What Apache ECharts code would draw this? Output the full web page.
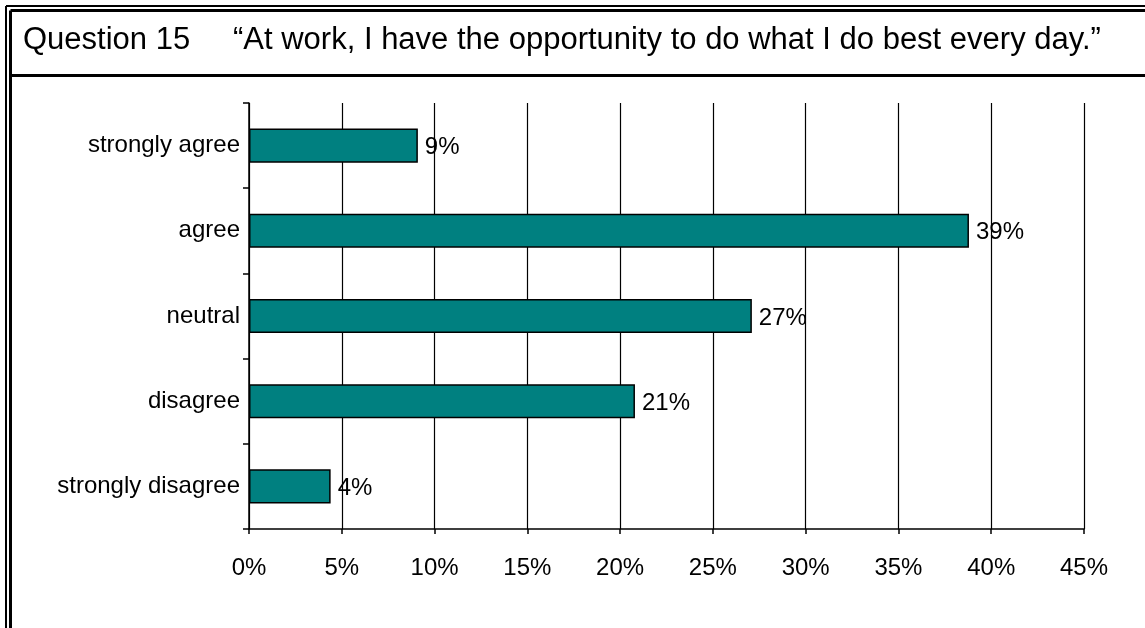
<!DOCTYPE html>
<html>
<head>
<meta charset="utf-8">
<script src="https://cdn.jsdelivr.net/npm/echarts@6/dist/echarts.min.js"></script>
<style>
  html, body { margin: 0; padding: 0; background: #fff; }
  #chart { width: 1145px; height: 628px; }
</style>
</head>
<body>
<div id="chart"></div>
<script>
// Survey responses, share of respondents (%)
const categories = ['strongly agree', 'agree', 'neutral', 'disagree', 'strongly disagree'];
const shares = [9.1, 38.8, 27.1, 20.8, 4.4];
const xTicks = [0, 5, 10, 15, 20, 25, 30, 35, 40, 45];
const questionNo = 'Question 15';
const statement = '\u201CAt work, I have the opportunity to do what I do best every day.\u201D';

const FONT = "'Liberation Sans', Arial, sans-serif";
const chart = echarts.init(document.getElementById('chart'), null, { renderer: 'canvas' });

const frameLine = (x1, y1, x2, y2, w) => ({
  type: 'line',
  shape: { x1, y1, x2, y2 },
  style: { stroke: '#000', lineWidth: w },
  silent: true
});

chart.setOption({
  animation: false,
  backgroundColor: '#fff',
  title: [
    { text: questionNo, left: 23, top: 25, padding: 0,
      textStyle: { fontFamily: FONT, fontSize: 31, fontWeight: 'normal', color: '#000' } },
    { text: statement, left: 233, top: 25, padding: 0,
      textStyle: { fontFamily: FONT, fontSize: 31, fontWeight: 'normal', color: '#000' } }
  ],
  graphic: [
    // double frame: thin outer rule, heavier inner rule
    frameLine(6, 6, 1145, 6, 2),
    frameLine(6, 6, 6, 628, 2),
    frameLine(10.5, 10.5, 1145, 10.5, 3),
    frameLine(10.5, 10.5, 10.5, 628, 3),
    // rule under the heading
    frameLine(10, 75.5, 1145, 75.5, 3)
  ],
  grid: { left: 249, right: 61, top: 103, bottom: 99, containLabel: false },
  xAxis: {
    type: 'value',
    min: xTicks[0],
    max: xTicks[xTicks.length - 1],
    interval: xTicks[1] - xTicks[0],
    axisLine: { show: true, lineStyle: { color: '#000', width: 1.5 } },
    axisTick: { show: true, length: 5, lineStyle: { color: '#000', width: 1.5 } },
    splitLine: { show: true, lineStyle: { color: '#000', width: 1.2 } },
    axisLabel: {
      margin: 27,
      fontFamily: FONT, fontSize: 24, color: '#000',
      formatter: v => v + '%'
    }
  },
  yAxis: {
    type: 'category',
    inverse: true,
    data: categories,
    axisLine: { show: true, lineStyle: { color: '#000', width: 1.5 } },
    axisTick: { show: true, length: 6, lineStyle: { color: '#000', width: 1.5 } },
    axisLabel: { margin: 9, padding: [4, 0, 0, 0], fontFamily: FONT, fontSize: 24, color: '#000' },
    splitLine: { show: false }
  },
  series: [{
    type: 'bar',
    data: shares,
    barCategoryGap: '60%',
    itemStyle: { color: '#008080', borderColor: '#000', borderWidth: 1.5 },
    label: {
      show: true,
      position: 'right',
      distance: 7,
      offset: [0, 2],
      fontFamily: FONT, fontSize: 24, color: '#000',
      formatter: p => Math.round(p.value) + '%'
    }
  }]
});
</script>
</body>
</html>
